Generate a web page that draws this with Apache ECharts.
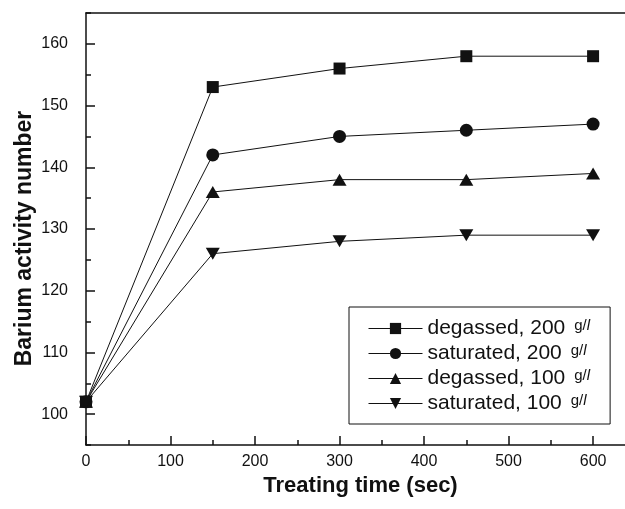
<!DOCTYPE html>
<html>
<head>
<meta charset="utf-8">
<script src="https://cdn.jsdelivr.net/npm/echarts@6/dist/echarts.min.js"></script>
<style>
  html, body { margin: 0; padding: 0; background: #fff; }
  #chart { width: 625px; height: 509px; }
</style>
</head>
<body>
<div id="chart"></div>
<script>
// treating time (sec)
const times = [0, 150, 300, 450, 600]
// barium activity number per condition
const degassed200 = [102, 153, 156, 158, 158]
const saturated200 = [102, 142, 145, 146, 147]
const degassed100 = [102, 136, 138, 138, 139]
const saturated100 = [102, 126, 128, 129, 129]
const seriesNames = ['degassed, 200 g/l', 'saturated, 200 g/l', 'degassed, 100 g/l', 'saturated, 100 g/l']

const font = 'Liberation Sans, Arial, Helvetica, sans-serif'
const ink = '#111'

function pairs(ys) {
  return times.map((t, i) => [t, ys[i]])
}

function lineSeries(name, ys, symbol, size) {
  return {
    name: name,
    type: 'line',
    xAxisIndex: 0,
    yAxisIndex: 0,
    data: pairs(ys),
    symbol: symbol,
    symbolSize: size,
    showAllSymbol: true,
    clip: false,
    lineStyle: { color: ink, width: 1 },
    itemStyle: { color: ink, borderWidth: 0 },
    emphasis: { disabled: true }
  }
}

const chart = echarts.init(document.getElementById('chart'))
const option = {
  animation: false,
  backgroundColor: '#fff',
  textStyle: { fontFamily: font, color: ink },
  // grid 0 holds the data, grid 1 only carries the labelled 100..160 axis
  // the plot runs past the right edge of the page (cropped like the original)
  grid: [
    { left: 86, width: 591.6, top: 13, bottom: 64, outerBoundsMode: 'none', containLabel: false },
    { left: 86, width: 591.6, top: 43.86, bottom: 94.86, outerBoundsMode: 'none', containLabel: false }
  ],
  legend: {
    orient: 'vertical',
    left: 349,
    top: 307,
    padding: [11, 20, 10, 19],
    backgroundColor: '#fff',
    borderColor: ink,
    borderWidth: 1,
    itemWidth: 54,
    itemHeight: 14,
    itemGap: 4,
    lineStyle: { width: 1, color: ink },
    data: seriesNames,
    formatter: function(name) {
      const base = name.replace(' g/l', '')
      return '{t|' + base + '}{u|g/}{i|l}'
    },
    textStyle: {
      fontFamily: font,
      color: ink,
      fontSize: 21,
      lineHeight: 20,
      rich: {
        t: { fontFamily: font, fontSize: 21, lineHeight: 20, color: ink },
        u: { fontFamily: font, fontSize: 15, lineHeight: 12, verticalAlign: 'top', color: ink, padding: [0, 0, 0, 9] },
        i: { fontFamily: font, fontSize: 15, lineHeight: 12, verticalAlign: 'top', fontStyle: 'italic', color: ink }
      }
    }
  },
  xAxis: [
    {
      gridIndex: 0,
      type: 'value',
      min: 0,
      max: 700,
      interval: 100,
      name: 'Treating time (sec)',
      nameLocation: 'middle',
      nameGap: 20,
      nameTextStyle: { fontFamily: font, fontSize: 22, fontWeight: 'bold', color: ink, padding: [0, 42.6, 0, 0] },
      axisLine: { show: true, onZero: false, lineStyle: { color: ink, width: 1.5 } },
      axisTick: { show: true, inside: true, length: 9, lineStyle: { color: ink, width: 1.5 } },
      minorTick: { show: true, splitNumber: 2, length: 5, lineStyle: { color: ink, width: 1.5 } },
      axisLabel: { showMaxLabel: false, margin: 9, fontFamily: font, fontSize: 16, color: ink },
      splitLine: { show: false }
    },
    {
      gridIndex: 0,
      type: 'value',
      position: 'top',
      min: 0,
      max: 700,
      axisLine: { show: true, onZero: false, lineStyle: { color: ink, width: 1.5 } },
      axisTick: { show: false },
      axisLabel: { show: false },
      splitLine: { show: false }
    },
    {
      gridIndex: 1,
      type: 'value',
      min: 0,
      max: 700,
      show: false
    }
  ],
  yAxis: [
    {
      gridIndex: 0,
      type: 'value',
      min: 95,
      max: 165,
      interval: 5,
      name: 'Barium activity number',
      nameLocation: 'middle',
      nameGap: 50,
      nameTextStyle: { fontFamily: font, fontSize: 23, fontWeight: 'bold', color: ink, padding: [0, 19, 0, 0] },
      axisLine: { show: true, onZero: false, lineStyle: { color: ink, width: 1.5 } },
      axisTick: { show: true, inside: true, length: 5, lineStyle: { color: ink, width: 1.5 } },
      axisLabel: { show: false },
      splitLine: { show: false }
    },
    {
      gridIndex: 1,
      type: 'value',
      min: 100,
      max: 160,
      interval: 10,
      axisLine: { show: false },
      axisTick: { show: true, inside: true, length: 9, lineStyle: { color: ink, width: 1.5 } },
      axisLabel: { margin: 18, fontFamily: font, fontSize: 16, color: ink },
      splitLine: { show: false }
    }
  ],
  series: [
    lineSeries(seriesNames[0], degassed200, 'rect', 12),
    lineSeries(seriesNames[1], saturated200, 'circle', 13),
    lineSeries(seriesNames[2], degassed100, 'triangle', [14, 12]),
    lineSeries(seriesNames[3], saturated100, 'path://M0,0L10,0L5,9Z', [14, 12])
  ]
}
chart.setOption(option)
</script>
</body>
</html>
